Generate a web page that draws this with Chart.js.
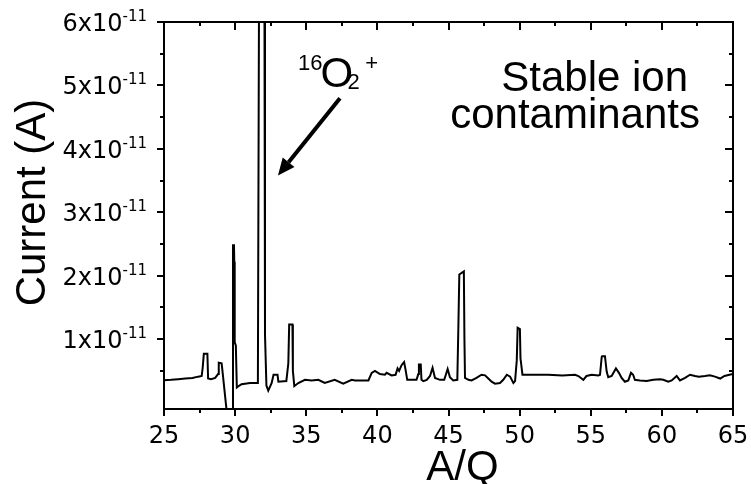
<!DOCTYPE html>
<html>
<head>
<meta charset="utf-8">
<title>Stable ion contaminants</title>
<script src="https://cdn.jsdelivr.net/npm/chart.js@4.4.1/dist/chart.umd.min.js"></script>
<style>
  html, body { margin: 0; padding: 0; background: #fff; }
  #wrap { width: 751px; height: 484px; }
</style>
</head>
<body>
<div id="wrap"><canvas id="spectrum" width="751" height="484"></canvas></div>
<script>
// A/Q scan; current is stored in units of 1e-11 A
const massToCharge = [
  25.0, 25.5, 26.0, 26.5, 27.0, 27.4, 27.65, 27.72, 27.8, 28.05, 28.1, 28.3, 28.6, 28.8, 28.85, 29.05, 29.1,
  29.4, 29.6, 29.82, 29.85, 29.92, 29.94, 29.97, 30.05, 30.12, 30.3, 30.45, 31.05, 31.6, 31.7, 32.05, 32.1,
  32.2, 32.33, 32.57, 32.7, 32.98, 33.04, 33.6, 33.74, 33.8, 34.03, 34.06, 34.16, 34.44, 34.91, 35.38, 35.85,
  36.3, 37.0, 37.6, 38.2, 38.43, 39.37, 39.6, 39.83, 40.18, 40.53, 40.65, 41.0, 41.28, 41.42, 41.53, 41.7,
  41.88, 41.98, 42.1, 42.75, 42.88, 42.92, 43.05, 43.1, 43.23, 43.47, 43.7, 43.88, 44.05, 44.4, 44.7, 44.94,
  45.1, 45.33, 45.62, 45.69, 45.76, 46.08, 46.12, 46.16, 46.4, 46.62, 46.97, 47.32, 47.57, 47.8, 48.03, 48.27,
  48.62, 48.85, 49.1, 49.33, 49.56, 49.68, 49.8, 49.86, 50.02, 50.06, 50.2, 51.0, 52.0, 53.0, 53.9, 54.13,
  54.48, 54.7, 55.07, 55.53, 55.65, 55.77, 55.8, 56.0, 56.12, 56.23, 56.47, 56.77, 56.98, 57.17, 57.4, 57.64,
  57.83, 57.98, 58.1, 58.46, 58.93, 59.4, 59.87, 60.1, 60.45, 60.69, 61.04, 61.27, 61.63, 61.98, 62.33, 62.6,
  63.03, 63.38, 63.73, 64.1, 64.4, 64.75, 65.0
];
const current = [
  0.355, 0.36, 0.37, 0.38, 0.39, 0.41, 0.42, 0.55, 0.77, 0.77, 0.38, 0.37, 0.39, 0.45, 0.63, 0.62, 0.52,
  -0.12, -0.5, -0.5, 2.48, 2.48, 2.22, 0.95, 0.9, 0.24, 0.27, 0.29, 0.31, 0.31, 8.0, 8.0, 1.07,
  0.27, 0.19, 0.31, 0.44, 0.44, 0.33, 0.34, 0.62, 1.23, 1.23, 0.5, 0.26, 0.31, 0.36, 0.35, 0.36,
  0.31, 0.36, 0.30, 0.36, 0.35, 0.35, 0.47, 0.50, 0.45, 0.44, 0.47, 0.43, 0.44, 0.54, 0.50, 0.59,
  0.64, 0.52, 0.36, 0.36, 0.45, 0.60, 0.60, 0.36, 0.34, 0.36, 0.42, 0.55, 0.39, 0.36, 0.36, 0.53,
  0.40, 0.35, 0.36, 1.15, 2.02, 2.07, 1.0, 0.39, 0.36, 0.35, 0.39, 0.44, 0.43, 0.38, 0.33, 0.30,
  0.31, 0.36, 0.44, 0.41, 0.31, 0.34, 0.67, 1.18, 1.16, 0.7, 0.44, 0.44, 0.44, 0.43, 0.44, 0.42,
  0.36, 0.42, 0.44, 0.43, 0.44, 0.72, 0.73, 0.73, 0.49, 0.40, 0.42, 0.54, 0.47, 0.39, 0.33, 0.35,
  0.47, 0.44, 0.36, 0.35, 0.34, 0.36, 0.37, 0.36, 0.33, 0.35, 0.42, 0.35, 0.39, 0.44, 0.42, 0.41,
  0.42, 0.43, 0.41, 0.38, 0.42, 0.44, 0.45
];

const xMajorTicks = [25, 30, 35, 40, 45, 50, 55, 60, 65];
const xMinorTicks = [27.5, 32.5, 37.5, 42.5, 47.5, 52.5, 57.5, 62.5];
const yMajorTicks = [1, 2, 3, 4, 5, 6];
const yMinorTicks = [0.5, 1.5, 2.5, 3.5, 4.5, 5.5];
const yExponent = '-11';

const LABEL_FONT = '"Liberation Sans", Arial, sans-serif';
const TICK_FONT = '"DejaVu Sans", Verdana, sans-serif';

// frame, mirrored ticks, tick labels, titles and the O2+ annotation
const axisFrame = {
  id: 'axisFrame',
  afterDraw(chart) {
    const { ctx, chartArea: a, scales: { x, y } } = chart;
    ctx.save();
    ctx.strokeStyle = '#000';
    ctx.fillStyle = '#000';
    ctx.lineWidth = 2;
    ctx.strokeRect(a.left, a.top, a.right - a.left, a.bottom - a.top);

    const seg = (x1, y1, x2, y2) => {
      ctx.beginPath(); ctx.moveTo(x1, y1); ctx.lineTo(x2, y2); ctx.stroke();
    };
    // bottom/left ticks point out, top/right point in
    xMajorTicks.forEach(v => {
      const px = Math.round(x.getPixelForValue(v));
      seg(px, a.bottom, px, a.bottom + 7);
      seg(px, a.top, px, a.top + 8);
    });
    xMinorTicks.forEach(v => {
      const px = Math.round(x.getPixelForValue(v));
      seg(px, a.bottom, px, a.bottom + 4);
      seg(px, a.top, px, a.top + 4);
    });
    yMajorTicks.forEach(v => {
      const py = Math.round(y.getPixelForValue(v));
      seg(a.left - 7, py, a.left, py);
      seg(a.right - 8, py, a.right, py);
    });
    yMinorTicks.forEach(v => {
      const py = Math.round(y.getPixelForValue(v));
      seg(a.left - 4, py, a.left, py);
      seg(a.right - 4, py, a.right, py);
    });

    // tick labels
    ctx.textBaseline = 'alphabetic';
    ctx.font = '24px ' + TICK_FONT;
    ctx.textAlign = 'center';
    xMajorTicks.forEach(v => {
      ctx.fillText(String(v), x.getPixelForValue(v), a.bottom + 34);
    });
    yMajorTicks.forEach(v => {
      const py = y.getPixelForValue(v);
      ctx.font = '15px ' + TICK_FONT;
      ctx.textAlign = 'right';
      const expW = ctx.measureText(yExponent).width;
      ctx.fillText(yExponent, a.left - 17, py - 1);
      ctx.font = '24px ' + TICK_FONT;
      ctx.fillText(v + 'x10', a.left - 17 - expW, py + 9);
    });

    // axis titles
    ctx.font = '42px ' + LABEL_FONT;
    ctx.textAlign = 'center';
    ctx.fillText('A/Q', (a.left + a.right) / 2 + 14, a.bottom + 71);
    ctx.save();
    ctx.translate(a.left - 119, (a.top + a.bottom) / 2 - 13);
    ctx.rotate(-Math.PI / 2);
    ctx.fillText('Current (A)', 0, 0);
    ctx.restore();

    // text labels
    ctx.textAlign = 'right';
    ctx.fillText('Stable ion', x.getPixelForValue(61.84), y.getPixelForValue(4.92));
    ctx.fillText('contaminants', x.getPixelForValue(62.68), y.getPixelForValue(4.33));

    ctx.textAlign = 'left';
    ctx.font = '22px ' + LABEL_FONT;
    ctx.fillText('16', x.getPixelForValue(34.42), y.getPixelForValue(5.24));
    ctx.font = '42px ' + LABEL_FONT;
    ctx.fillText('O', x.getPixelForValue(36.0), y.getPixelForValue(4.98));
    ctx.font = '22px ' + LABEL_FONT;
    ctx.fillText('2', x.getPixelForValue(37.9), y.getPixelForValue(4.94));
    ctx.fillText('+', x.getPixelForValue(39.15), y.getPixelForValue(5.24));

    // arrow pointing at the O2+ peak
    const x0 = x.getPixelForValue(37.37), y0 = y.getPixelForValue(4.80);
    const x1 = x.getPixelForValue(33.01), y1 = y.getPixelForValue(3.58);
    const ang = Math.atan2(y1 - y0, x1 - x0);
    const head = 17, half = 7.5;
    const bx = x1 - head * Math.cos(ang), by = y1 - head * Math.sin(ang);
    ctx.lineWidth = 4;
    seg(x0, y0, bx, by);
    ctx.beginPath();
    ctx.moveTo(x1, y1);
    ctx.lineTo(bx + half * Math.sin(ang), by - half * Math.cos(ang));
    ctx.lineTo(bx - half * Math.sin(ang), by + half * Math.cos(ang));
    ctx.closePath();
    ctx.fill();
    ctx.restore();
  }
};

const points = massToCharge.map((m, i) => ({ x: m, y: current[i] }));

new Chart(document.getElementById('spectrum'), {
  type: 'line',
  data: {
    datasets: [{
      data: points,
      borderColor: '#000',
      borderWidth: 2,
      pointRadius: 0,
      tension: 0,
      clip: 0
    }]
  },
  options: {
    responsive: false,
    animation: false,
    layout: { padding: { left: 164, right: 18, top: 22, bottom: 75 } },
    plugins: { legend: { display: false }, tooltip: { enabled: false } },
    scales: {
      x: { type: 'linear', min: 25, max: 65, display: false },
      y: { type: 'linear', min: -0.1, max: 6, display: false }
    }
  },
  plugins: [axisFrame]
});
</script>
</body>
</html>
